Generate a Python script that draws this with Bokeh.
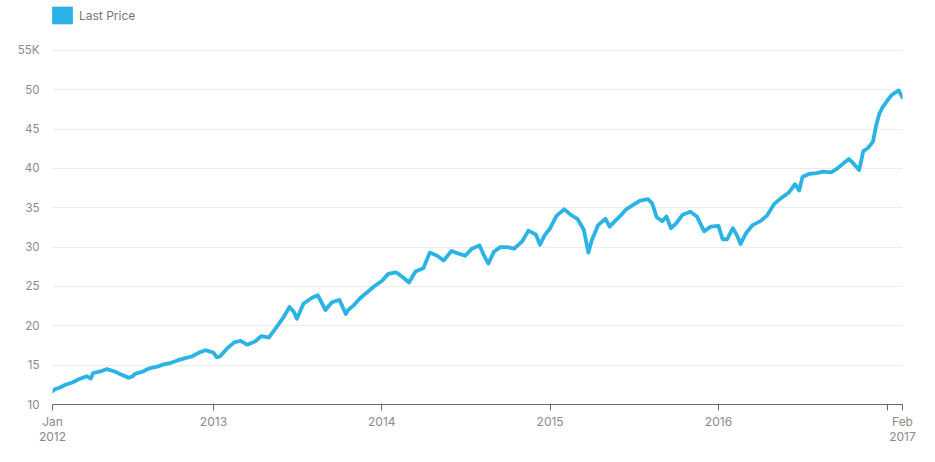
import pandas as pd
from bokeh.plotting import figure
from bokeh.models import Range1d, FixedTicker, Legend, LegendItem
from bokeh.embed import file_html
from bokeh.resources import INLINE

# ---- data (values in thousands) ----
dates = [
    "2012-01-18", "2012-01-25", "2012-02-01", "2012-02-15", "2012-03-01", "2012-03-15",
    "2012-04-01", "2012-04-10", "2012-04-15", "2012-05-01", "2012-05-15", "2012-06-01",
    "2012-06-15", "2012-07-01", "2012-07-10", "2012-07-15", "2012-08-01", "2012-08-15",
    "2012-09-01", "2012-09-15", "2012-10-01", "2012-10-15", "2012-11-01", "2012-11-15",
    "2012-12-01", "2012-12-15", "2013-01-01", "2013-01-08", "2013-01-15",
    "2013-02-01", "2013-02-15", "2013-03-01", "2013-03-15", "2013-04-01", "2013-04-15",
    "2013-05-01", "2013-05-15", "2013-06-01", "2013-06-15", "2013-06-24", "2013-07-01",
    "2013-07-15", "2013-08-01", "2013-08-15", "2013-09-01", "2013-09-15", "2013-10-01",
    "2013-10-15", "2013-10-20", "2013-11-01", "2013-11-15", "2013-12-01", "2013-12-15",
    "2014-01-01", "2014-01-15", "2014-02-01", "2014-02-15", "2014-03-01", "2014-03-15",
    "2014-04-01", "2014-04-15", "2014-05-01", "2014-05-15", "2014-06-01", "2014-06-15",
    "2014-07-01", "2014-07-15", "2014-08-01", "2014-08-10", "2014-08-20", "2014-09-01",
    "2014-09-15", "2014-10-01", "2014-10-15", "2014-11-01", "2014-11-15", "2014-12-01",
    "2014-12-10", "2014-12-20", "2015-01-01", "2015-01-15", "2015-02-01", "2015-02-15",
    "2015-03-01", "2015-03-15", "2015-03-25", "2015-04-01", "2015-04-15", "2015-05-01",
    "2015-05-10", "2015-05-20", "2015-06-01", "2015-06-15", "2015-07-01", "2015-07-15",
    "2015-08-01", "2015-08-10", "2015-08-20", "2015-09-01", "2015-09-10", "2015-09-20",
    "2015-10-01", "2015-10-15", "2015-11-01", "2015-11-15", "2015-12-01", "2015-12-15",
    "2016-01-01", "2016-01-10", "2016-01-20", "2016-02-01", "2016-02-10", "2016-02-18",
    "2016-03-01", "2016-03-15", "2016-04-01", "2016-04-15", "2016-05-01", "2016-05-15",
    "2016-06-01", "2016-06-15", "2016-06-24", "2016-07-01", "2016-07-15", "2016-08-01",
    "2016-08-15", "2016-09-01", "2016-09-15", "2016-10-01", "2016-10-10", "2016-10-20",
    "2016-11-01", "2016-11-10", "2016-11-20", "2016-12-01", "2016-12-08", "2016-12-15",
    "2016-12-22", "2017-01-01", "2017-01-10", "2017-01-20", "2017-01-26", "2017-02-03",
]
prices = [
    11.7, 12.0, 12.1, 12.5, 12.8, 13.2,
    13.6, 13.3, 14.0, 14.2, 14.5, 14.2,
    13.8, 13.4, 13.6, 13.9, 14.2, 14.6,
    14.8, 15.1, 15.3, 15.6, 15.9, 16.1,
    16.6, 16.9, 16.6, 16.0, 16.1,
    17.2, 17.9, 18.1, 17.6, 18.0, 18.7,
    18.5, 19.6, 21.0, 22.4, 21.8, 20.9,
    22.8, 23.5, 23.9, 22.0, 23.0, 23.3,
    21.5, 22.0, 22.6, 23.5, 24.3, 25.0,
    25.7, 26.6, 26.8, 26.2, 25.5, 26.9,
    27.3, 29.3, 28.9, 28.3, 29.5, 29.2,
    28.9, 29.8, 30.2, 29.0, 27.9, 29.4,
    30.0, 30.0, 29.8, 30.7, 32.1, 31.6,
    30.3, 31.5, 32.4, 34.0, 34.8, 34.1,
    33.6, 32.2, 29.3, 30.8, 32.8, 33.6,
    32.6, 33.2, 33.9, 34.8, 35.4, 35.9,
    36.1, 35.6, 33.8, 33.3, 33.9, 32.4,
    33.0, 34.1, 34.5, 33.9, 32.0, 32.6,
    32.7, 31.0, 31.0, 32.4, 31.5, 30.4,
    31.8, 32.8, 33.3, 34.0, 35.5, 36.2,
    36.9, 38.0, 37.2, 38.9, 39.3, 39.4,
    39.6, 39.5, 40.0, 40.8, 41.2, 40.6,
    39.8, 42.2, 42.6, 43.4, 45.5, 47.0,
    47.8, 48.6, 49.3, 49.7, 49.9, 49.0,
]
series_name = "Last Price"

x_tick_dates = ["2012-01-18", "2013-01-01", "2014-01-01", "2015-01-01",
                "2016-01-01", "2017-01-01", "2017-02-03"]
x_tick_labels = ["Jan\n2012", "2013", "2014", "2015", "2016", "", "Feb\n2017"]
y_ticks = [10, 15, 20, 25, 30, 35, 40, 45, 50, 55]
y_tick_labels = ["10", "15", "20", "25", "30", "35", "40", "45", "50", "55K"]

# ---- styling / layout ----
BLUE = "#2BB3E5"
FONT = "Inter"
LABEL_COLOR = "#8a8a8a"
W, H = 919, 446
LEFT, RIGHT, BOTTOM = 52, 17, 41
FRAME_H = H - BOTTOM          # frame starts at the very top of the canvas
TOP_TICK_PX = 50              # where the top gridline (55K) sits
LEG_TOP, LEG_W, LEG_H = 5, 26, 22

y0, y1 = y_ticks[0], y_ticks[-1]
y_end = y0 + (y1 - y0) * FRAME_H / (FRAME_H - TOP_TICK_PX)


def ms(d):
    return int(pd.Timestamp(d).value // 10**6)


x_tick_ms = [ms(d) for d in x_tick_dates]
x_dates = pd.to_datetime(dates)

p = figure(width=W, height=H, x_axis_type="datetime",
           output_backend="svg", toolbar_location=None,
           x_range=Range1d(x_tick_ms[0], x_tick_ms[-1]),
           y_range=Range1d(y0, y_end),
           min_border_left=LEFT, min_border_right=RIGHT,
           min_border_top=0, min_border_bottom=BOTTOM)
p.outline_line_color = None
p.background_fill_color = "white"
p.border_fill_color = "white"

line = p.line(x_dates, prices, line_color=BLUE, line_width=3.8,
              line_join="round", line_cap="round")
# hidden area renderer used only to give the legend a filled square swatch
swatch = p.varea(x=x_dates, y1=prices, y2=prices, fill_color=BLUE,
                 visible=False)

# x axis
xa = p.xaxis[0]
xa.axis_label = None
xa.ticker = FixedTicker(ticks=x_tick_ms)
xa.major_label_overrides = {t: l for t, l in zip(x_tick_ms, x_tick_labels)}
xa.axis_line_color = "#666666"
xa.axis_line_width = 1.2
xa.major_tick_line_color = "#666666"
xa.major_tick_out = 6
xa.major_tick_in = 0
xa.minor_tick_line_color = None
xa.major_label_standoff = 3
xa.major_label_text_font = FONT
xa.major_label_text_font_size = "12px"
xa.major_label_text_color = LABEL_COLOR
xa.major_label_text_line_height = 1.0

# y axis
ya = p.yaxis[0]
ya.axis_label = None
ya.ticker = FixedTicker(ticks=y_ticks)
ya.major_label_overrides = {t: l for t, l in zip(y_ticks, y_tick_labels)}
ya.axis_line_color = None
ya.major_tick_line_color = None
ya.minor_tick_line_color = None
ya.major_label_standoff = 7
ya.major_label_text_font = FONT
ya.major_label_text_font_size = "11.5px"
ya.major_label_text_color = LABEL_COLOR

p.xgrid.grid_line_color = None
p.ygrid.ticker = FixedTicker(ticks=y_ticks[1:])
p.ygrid.grid_line_color = "#ececec"
p.ygrid.grid_line_width = 1

legend = Legend(items=[LegendItem(label=series_name, renderers=[swatch])],
                location=(-3, FRAME_H - LEG_TOP - LEG_H),
                glyph_width=LEG_W, glyph_height=LEG_H,
                label_standoff=4, padding=0, margin=0, spacing=0,
                border_line_color=None, background_fill_alpha=0,
                inactive_fill_alpha=0,
                label_text_font=FONT, label_text_font_size="12px",
                label_text_color="#777777", label_height=LEG_H)
p.add_layout(legend, "center")

open("out.html", "w").write(file_html(p, INLINE))
